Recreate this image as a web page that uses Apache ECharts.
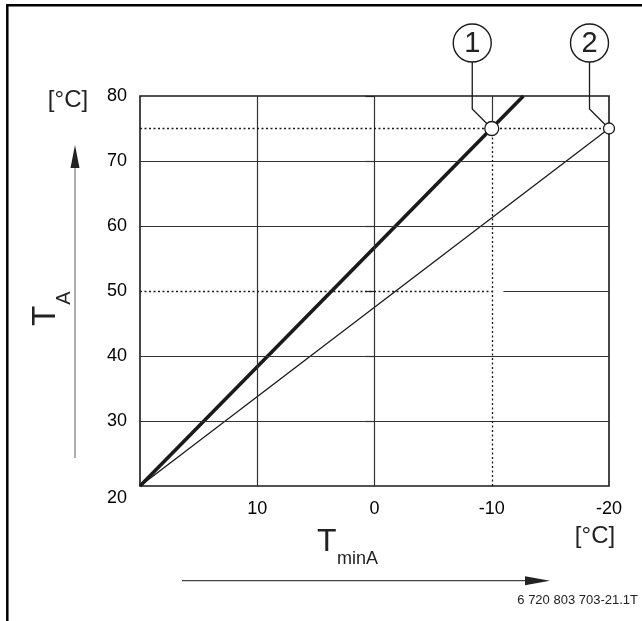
<!DOCTYPE html>
<html>
<head>
<meta charset="utf-8">
<script src="https://cdn.jsdelivr.net/npm/echarts@6/dist/echarts.min.js"></script>
<style>
html, body { margin: 0; padding: 0; background: #fff; }
#chart { width: 642px; height: 621px; }
</style>
</head>
<body>
<div id="chart"></div>
<script>
// chart values
const xTicks = [10, 0, -10, -20];
const yTicks = [20, 30, 40, 50, 60, 70, 80];
const yTickMarks = [30, 40, 50, 60, 70, 80];
const curve1 = [[20, 20], [-12.7, 80]];
const curve2 = [[20, 20], [-20, 75]];
const points = [[-10, 75], [-20, 75]];
const callouts = ['1', '2'];
const solidH = [30, 40, 60, 70];
const solidV = [10, 0];

const font = '"Liberation Sans", Arial, sans-serif';
const ink = '#1a1a1a';

function seg(a, b, dotted) {
  return [
    { coord: a, lineStyle: { type: dotted ? [2, 2.5] : 'solid', color: dotted ? '#1a1a1a' : '#333', width: dotted ? 1.3 : 1.2 } },
    { coord: b }
  ];
}

const gridLines = [];
solidH.forEach(function (y) { gridLines.push(seg([20, y], [-20, y], false)); });
solidV.forEach(function (x) { gridLines.push(seg([x, 20], [x, 80], false)); });
gridLines.push(seg([20, 50], [-10, 50], true));
gridLines.push(seg([-11, 50], [-20, 50], false));
gridLines.push(seg([20, 75], [-20, 75], true));
gridLines.push(seg([-10, 20], [-10, 75], true));
gridLines.push(seg([-10, 75], [-10, 80], false));

let chart = echarts.init(document.getElementById('chart'));
chart.setOption({
  animation: false,
  grid: { left: 140, right: 33, top: 96, bottom: 135, show: true, borderColor: '#1a1a1a', borderWidth: 1.6 },
  xAxis: {
    type: 'value', min: -20, max: 20, interval: 10, inverse: true,
    axisLine: { show: false }, axisTick: { show: false }, splitLine: { show: false },
    axisLabel: { customValues: xTicks, margin: 14, fontSize: 18, color: '#000', fontFamily: font }
  },
  yAxis: {
    type: 'value', min: 20, max: 80, interval: 10,
    axisLine: { show: false }, splitLine: { show: false },
    axisTick: { show: true, length: 9, customValues: yTickMarks, lineStyle: { color: '#222', width: 1.2 } },
    axisLabel: {
      customValues: yTicks, margin: 13, fontSize: 18, color: '#000', fontFamily: font,
      formatter: function (v) { return v === 20 ? '{low|' + v + '}' : String(v); },
      rich: { low: { fontSize: 18, color: '#000', fontFamily: font, padding: [24, 0, 0, 0] } }
    }
  },
  series: [
    {
      type: 'line', data: [], z: 1, silent: true,
      markLine: { symbol: 'none', silent: true, label: { show: false }, data: gridLines }
    },
    {
      type: 'line', data: curve1, symbol: 'none', z: 3,
      lineStyle: { color: ink, width: 3.6 }
    },
    {
      type: 'line', data: curve2, symbol: 'none', z: 3,
      lineStyle: { color: ink, width: 1.3 }
    },
    {
      type: 'scatter', data: points, z: 5,
      symbol: 'circle',
      symbolSize: function (v, p) { return p.dataIndex === 0 ? 14 : 11; },
      itemStyle: { color: '#fff', borderColor: ink, borderWidth: 1.3, opacity: 1 }
    }
  ],
  graphic: [
    { id: 'frame', type: 'rect', shape: { x: 7.3, y: 5.3, width: 700, height: 700 },
      style: { fill: 'none', stroke: '#000', lineWidth: 2.5 }, silent: true },
    { id: 'yunit', type: 'text', x: 68, y: 100,
      style: { text: '[°C]', font: '24px ' + font, fill: '#222', align: 'center', verticalAlign: 'middle' } },
    { id: 'xunit', type: 'text', x: 595, y: 536,
      style: { text: '[°C]', font: '24px ' + font, fill: '#222', align: 'center', verticalAlign: 'middle' } },
    { id: 'yT', type: 'text', x: 46, y: 316, rotation: Math.PI / 2,
      style: { text: 'T', font: '33px ' + font, fill: '#222', align: 'center', verticalAlign: 'middle' } },
    { id: 'yA', type: 'text', x: 64, y: 298, rotation: Math.PI / 2,
      style: { text: 'A', font: '20px ' + font, fill: '#222', align: 'center', verticalAlign: 'middle' } },
    { id: 'xT', type: 'text', x: 317, y: 542,
      style: { text: 'T', font: '32px ' + font, fill: '#222', align: 'left', verticalAlign: 'middle' } },
    { id: 'xS', type: 'text', x: 337, y: 559,
      style: { text: 'minA', font: '18px ' + font, fill: '#222', align: 'left', verticalAlign: 'middle' } },
    { id: 'yArrowLine', type: 'line', shape: { x1: 75, y1: 458, x2: 75, y2: 165 },
      style: { stroke: '#777', lineWidth: 1.2 } },
    { id: 'yArrowHead', type: 'polygon', shape: { points: [[75, 145], [70.5, 168], [79.5, 168]] },
      style: { fill: '#222' } },
    { id: 'xArrowLine', type: 'line', shape: { x1: 182, y1: 580.7, x2: 530, y2: 580.7 },
      style: { stroke: '#444', lineWidth: 1.2 } },
    { id: 'xArrowHead', type: 'polygon', shape: { points: [[550, 580.7], [525, 576.2], [525, 585.2]] },
      style: { fill: '#222' } },
    { id: 'footer', type: 'text', x: 638, y: 600,
      style: { text: '6 720 803 703-21.1T', font: '13px ' + font, fill: '#222', align: 'right', verticalAlign: 'middle' } }
  ]
});

// callouts: leader from each marker up-left, then straight up to the numbered circle
const callGraphics = [];
points.forEach(function (p, i) {
  const px = chart.convertToPixel({ gridIndex: 0 }, p);
  const kx = px[0] - 19.5;
  const ky = px[1] - 19.5;
  const cy = 43;
  const r = 19;
  callGraphics.push({
    id: 'lead' + i, type: 'polyline', z: 4,
    shape: { points: [[px[0] - 3, px[1] - 3], [kx, ky], [kx, cy + r]] },
    style: { stroke: ink, lineWidth: 1.3, fill: 'none' }
  });
  callGraphics.push({
    id: 'ring' + i, type: 'circle', shape: { cx: kx, cy: cy, r: r },
    style: { stroke: ink, lineWidth: 1.4, fill: '#fff' }
  });
  callGraphics.push({
    id: 'num' + i, type: 'text', x: kx, y: cy + 1,
    style: { text: callouts[i], font: '29px ' + font, fill: '#222', align: 'center', verticalAlign: 'middle' }
  });
});
chart.setOption({ graphic: callGraphics });
</script>
</body>
</html>
